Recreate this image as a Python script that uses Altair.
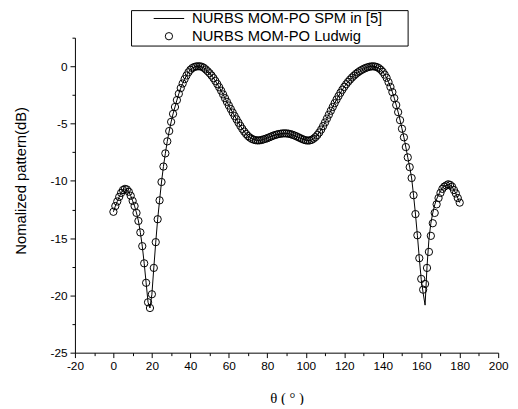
import altair as alt
import pandas as pd

theta = list(range(0, 181))

ludwig = [
    -12.7, -12.2, -11.8, -11.4, -11.05, -10.8, -10.7, -10.75, -10.95, -11.3,
    -11.75, -12.2, -12.8, -13.5, -14.5, -15.7, -17.2, -18.9, -20.6, -21.1,
    -19.9, -17.6, -15.35, -13.35, -11.7, -10.1, -8.75, -7.6, -6.55, -5.65,
    -4.85, -4.15, -3.55, -2.95, -2.4, -1.9, -1.5, -1.12, -0.8, -0.52,
    -0.3, -0.15, -0.06, -0.01, 0, 0, -0.04, -0.13, -0.27, -0.43,
    -0.6, -0.8, -1.03, -1.28, -1.55, -1.83, -2.13, -2.45, -2.78, -3.1,
    -3.42, -3.73, -4.04, -4.34, -4.63, -4.92, -5.2, -5.46, -5.7, -5.91,
    -6.09, -6.23, -6.34, -6.41, -6.45, -6.47, -6.46, -6.43, -6.38, -6.33,
    -6.27, -6.2, -6.13, -6.06, -6.0, -5.95, -5.91, -5.88, -5.86, -5.85,
    -5.86, -5.88, -5.92, -5.97, -6.03, -6.1, -6.18, -6.26, -6.34, -6.41,
    -6.46, -6.48, -6.47, -6.42, -6.32, -6.18, -6.0, -5.78, -5.52, -5.22,
    -4.9, -4.56, -4.22, -3.88, -3.55, -3.22, -2.9, -2.6, -2.31, -2.04,
    -1.79, -1.56, -1.35, -1.16, -0.98, -0.82, -0.67, -0.54, -0.42, -0.32,
    -0.23, -0.15, -0.09, -0.04, -0.01, 0, -0.02, -0.07, -0.16, -0.3,
    -0.48, -0.72, -1.0, -1.38, -1.8, -2.25, -2.78, -3.38, -4.0, -4.7,
    -5.45, -6.2, -7.05, -7.95, -8.8, -9.75, -11.25, -12.9, -14.75, -16.75,
    -18.56, -19.5, -19.0, -17.6, -16.2, -14.8, -13.7, -12.8, -12.05, -11.5,
    -11.05, -10.7, -10.5, -10.4, -10.3, -10.35, -10.5, -10.8, -11.1, -11.5,
    -11.9,
]

spm = [
    -12.7, -12.2, -11.8, -11.4, -11.05, -10.8, -10.7, -10.75, -10.95, -11.3,
    -11.75, -12.2, -12.8, -13.5, -14.5, -15.7, -17.2, -18.9, -20.6, -21.1,
    -19.9, -17.6, -15.35, -13.35, -11.7, -10.1, -8.75, -7.6, -6.55, -5.65,
    -4.85, -4.15, -3.55, -2.95, -2.4, -1.9, -1.5, -1.12, -0.8, -0.52,
    -0.3, -0.15, -0.06, -0.01, 0, 0, -0.04, -0.13, -0.27, -0.43,
    -0.6, -0.8, -1.03, -1.28, -1.55, -1.83, -2.13, -2.45, -2.78, -3.1,
    -3.42, -3.73, -4.04, -4.34, -4.63, -4.92, -5.2, -5.46, -5.7, -5.91,
    -6.09, -6.23, -6.34, -6.41, -6.45, -6.47, -6.46, -6.43, -6.38, -6.33,
    -6.27, -6.2, -6.13, -6.06, -6.0, -5.95, -5.91, -5.88, -5.86, -5.85,
    -5.86, -5.88, -5.92, -5.97, -6.03, -6.1, -6.18, -6.26, -6.34, -6.41,
    -6.46, -6.48, -6.47, -6.42, -6.32, -6.18, -6.0, -5.78, -5.52, -5.22,
    -4.9, -4.56, -4.22, -3.88, -3.55, -3.22, -2.9, -2.6, -2.31, -2.04,
    -1.79, -1.56, -1.35, -1.16, -0.98, -0.82, -0.67, -0.54, -0.42, -0.32,
    -0.23, -0.15, -0.09, -0.04, -0.01, 0, -0.02, -0.07, -0.16, -0.3,
    -0.48, -0.72, -1.0, -1.38, -1.8, -2.25, -2.78, -3.38, -4.0, -4.7,
    -5.45, -6.2, -7.05, -7.95, -8.8, -9.75, -11.25, -12.9, -14.75, -16.75,
    -18.6, -19.8, -20.85, -17.5, -15.1, -13.7, -12.8, -12.1, -11.6, -11.2,
    -10.9, -10.62, -10.45, -10.4, -10.3, -10.35, -10.5, -10.8, -11.1, -11.5,
    -11.9,
]

series_names = ["NURBS MOM-PO SPM in [5]", "NURBS MOM-PO Ludwig"]
x_ticks = list(range(-20, 201, 10))
y_ticks = [-25, -22.5, -20, -17.5, -15, -12.5, -10, -7.5, -5, -2.5, 0, 2.5]

df_line = pd.DataFrame({"theta": theta, "db": spm, "series": series_names[0]})
df_pts = pd.DataFrame({"theta": theta, "db": ludwig, "series": series_names[1]})

x_enc = alt.X(
    "theta:Q",
    scale=alt.Scale(domain=[-20, 200], nice=False, zero=False),
    axis=alt.Axis(
        values=x_ticks,
        labelExpr="datum.value % 20 === 0 ? '' + datum.value : ''",
        tickSize={"condition": {"test": "datum.value % 20 === 0", "value": 5}, "value": 3},
        labelFlush=False,
        labelOverlap=False,
        title="θ ( ° )",
        titleFont="Liberation Serif",
        titleFontSize=15,
        titleFontWeight="normal",
        titlePadding=20,
        labelPadding=3,
    ),
)
y_enc = alt.Y(
    "db:Q",
    scale=alt.Scale(domain=[-25, 2.5], nice=False, zero=False),
    axis=alt.Axis(
        values=y_ticks,
        labelExpr="datum.value % 5 === 0 ? '' + datum.value : ''",
        tickSize={"condition": {"test": "datum.value % 5 === 0", "value": 5}, "value": 3},
        labelFlush=False,
        labelOverlap=False,
        title="Nomalized pattern(dB)",
        titleFont="Liberation Sans",
        titleFontSize=15,
        titleFontWeight="normal",
        titleX=-55,
        titleY=145,
        titleBaseline="middle",
        labelPadding=3,
    ),
)

legend = alt.Legend(
    title=".",
    titleOrient="right",
    titleColor="white",
    titleFontSize=15,
    titlePadding=20,
    orient="none",
    legendX=57,
    legendY=-28,
    padding=1,
    strokeColor="black",
    fillColor="white",
    labelFont="Liberation Sans",
    labelFontSize=15,
    labelColor="black",
    labelLimit=500,
    symbolOffset=30,
    labelOffset=16,
    rowPadding=2,
    symbolStrokeColor="black",
    symbolStrokeWidth=1,
)

line = alt.Chart(df_line).mark_line(color="black", strokeWidth=1).encode(x=x_enc, y=y_enc)

points = alt.Chart(df_pts).mark_point(color="black", filled=False, strokeWidth=1, opacity=1).encode(
    x=x_enc,
    y=y_enc,
    shape=alt.Shape("series:N", scale=alt.Scale(domain=series_names, range=["M-4,0L4,0", "circle"]), legend=legend),
    size=alt.Size("series:N", scale=alt.Scale(domain=series_names, range=[60, 55]), legend=legend),
)

chart = alt.layer(line, points).properties(
    width=430,
    height=320,
    autosize=alt.AutoSizeParams(type="none"),
    padding={"left": 68, "top": 27, "right": 12, "bottom": 50},
).configure_view(stroke=None).configure_axis(
    grid=False,
    domainColor="black",
    tickColor="black",
    labelColor="black",
    titleColor="black",
    labelFont="Liberation Sans",
    labelFontSize=12,
    domainWidth=1,
    tickWidth=1,
)

chart.save("out.html", embed_options={"renderer": "svg", "actions": False})
